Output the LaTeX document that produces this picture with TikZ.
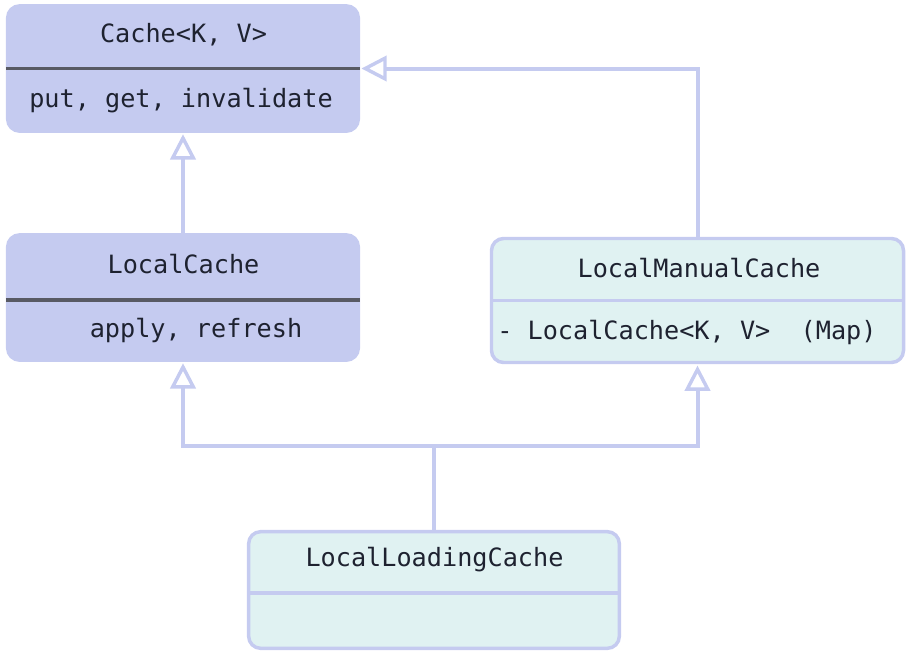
\documentclass[tikz,border=0pt]{standalone}
\usepackage{fontspec}
\setmonofont{DejaVu Sans Mono}
\usetikzlibrary{arrows.meta}
\definecolor{lav}{HTML}{C5CBF0}
\definecolor{mint}{HTML}{E0F2F2}
\definecolor{bar}{HTML}{585A64}
\definecolor{ink}{HTML}{1E2230}

\begin{document}
\begin{tikzpicture}[x=0.75pt,y=-0.75pt,
    box/.style={draw=lav,line width=2.6pt,rounded corners=9pt,inner sep=0pt},
    txt/.style={text=ink,font=\ttfamily\fontsize{18.9}{22}\selectfont,inner sep=0pt},
    rule/.style={line width=2.6pt},
    link/.style={draw=lav,line width=3pt},
    inherit/.style={link,-{Triangle[open,length=19pt,width=19pt,line width=2.6pt]},shorten >=1pt}]
    \useasboundingbox (0,0) rectangle (919,657);
    % classes
    \node[box,fill=lav,minimum width=263pt,minimum height=94pt] (cache) at (183,68.5) {};
    \node[box,fill=lav,minimum width=263pt,minimum height=94pt] (lc) at (183,297.5) {};
    \node[box,fill=mint,minimum width=309pt,minimum height=93pt] (lmc) at (697.5,300.5) {};
    \node[box,fill=mint,minimum width=278pt,minimum height=87.5pt] (llc) at (434,590) {};
    % dividers
    \draw[rule,bar] (cache.west) -- (cache.east);
    \draw[rule,bar] ([yshift=-1.9pt]lc.west) -- ([yshift=-1.9pt]lc.east);
    \draw[rule,lav] (lmc.west) -- (lmc.east);
    \draw[rule,lav] ([yshift=-2.25pt]llc.west) -- ([yshift=-2.25pt]llc.east);
    % texts
    \node[txt] (cachename) at (183.5,35) {Cache<K, V>};
    \node[txt] (cacheops) at (181,101) {put, get, invalidate};
    \node[txt] (lcname) at (183.5,264) {LocalCache};
    \node[txt] (lcops) at (196,330) {apply, refresh};
    \node[txt] (lmcname) at (699,268) {LocalManualCache};
    \node[txt,anchor=west] (lmcfield) at (497,332) {- LocalCache<K, V>\ \ (Map)};
    \node[txt] (llcname) at (434.5,560) {LocalLoadingCache};
    % inheritance
    \draw[inherit] (lc.north) -- (cache.south);
    \draw[inherit] (lmc.north) |- (cache.east);
    \coordinate (fork) at (434,446);
    \draw[link] (llc.north) -- (fork);
    \draw[inherit] (fork) -| (lc.south);
    \draw[inherit] (fork) -| (lmc.south);
\end{tikzpicture}
\end{document}
